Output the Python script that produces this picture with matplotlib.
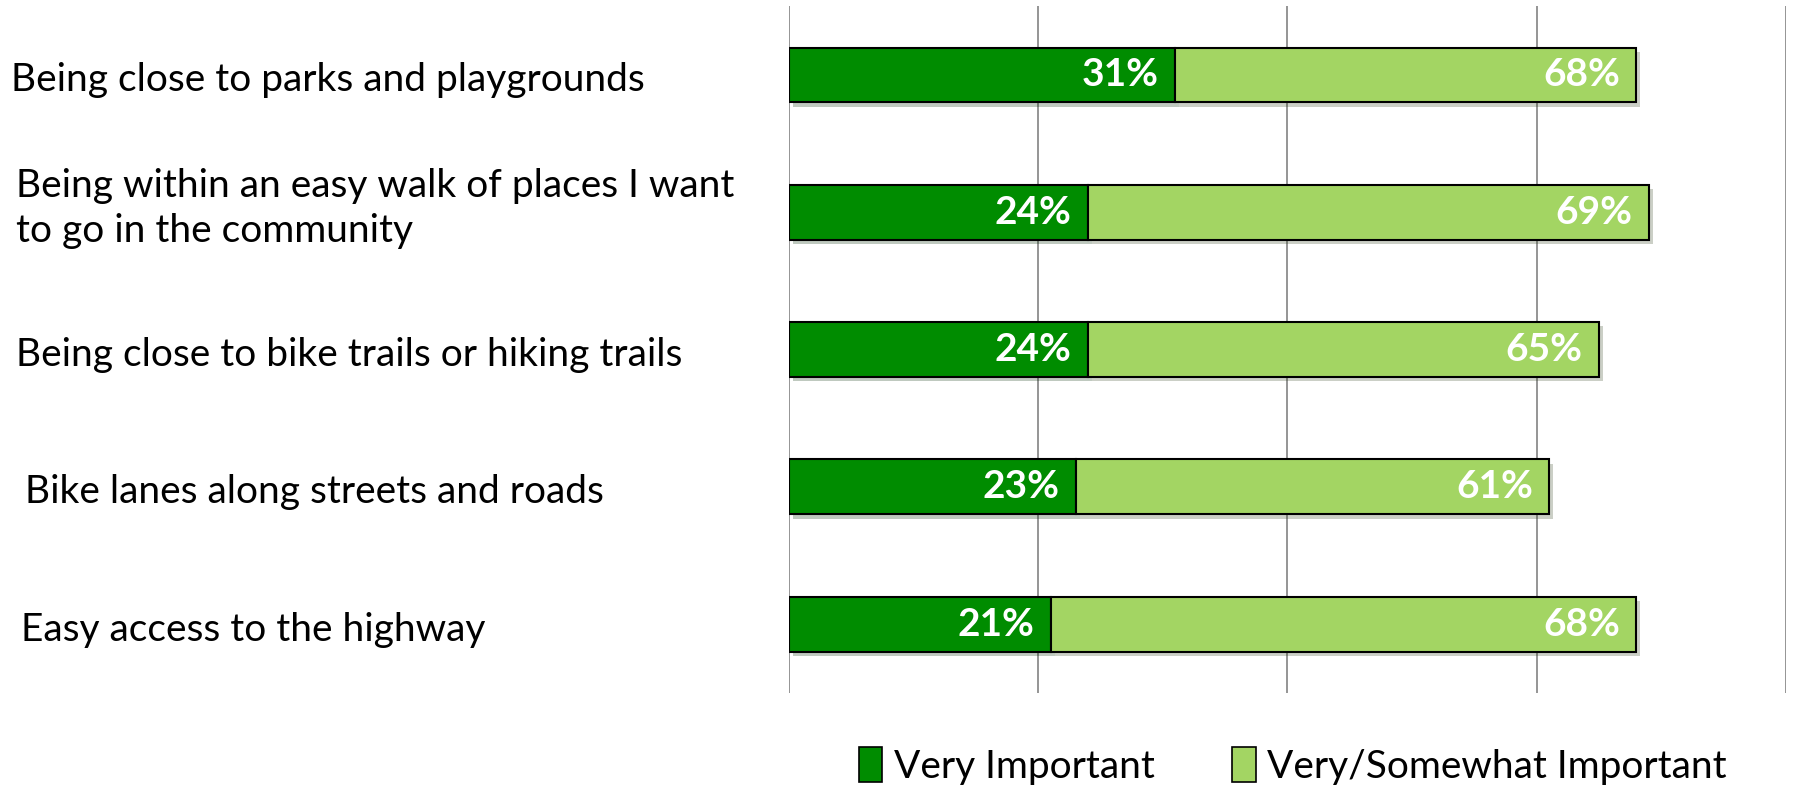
import numpy as np
import matplotlib
matplotlib.use("Agg")
import matplotlib.pyplot as plt
import matplotlib.patheffects as pe
import matplotlib.transforms as mtransforms
from matplotlib.patches import Patch

plt.rcParams['font.family'] = ['Lato', 'DejaVu Sans']

categories = [
    "Being close to parks and playgrounds",
    "Being within an easy walk of places I want\nto go in the community",
    "Being close to bike trails or hiking trails",
    "Bike lanes along streets and roads",
    "Easy access to the highway",
]
label_x = [11, 16, 16, 25, 21]   # left offsets of the category text (px)
label_dy = [0.04, -0.03, 0.04, 0.04, 0.04]
very = [31, 24, 24, 23, 21]
very_somewhat = [68, 69, 65, 61, 68]

dark = '#008C00'
light = '#A3D563'

fig = plt.figure(figsize=(17.93, 7.9), dpi=100)
ax = fig.add_axes([0.440, 0.123, 0.556, 0.869])

y = np.arange(len(categories))
rest = [t - v for t, v in zip(very_somewhat, very)]
shadow = [pe.SimplePatchShadow(offset=(3, -3), alpha=0.25), pe.Normal()]

ax.barh(y, very, height=0.4, color=dark, edgecolor='black', linewidth=1.5,
        zorder=3, path_effects=shadow)
ax.barh(y, rest, left=very, height=0.4, color=light, edgecolor='black',
        linewidth=1.5, zorder=3, path_effects=shadow)

lab_tr = mtransforms.blended_transform_factory(fig.transFigure, ax.transData)
for i in range(len(categories)):
    ax.text(very[i] - 1.3, y[i], f"{very[i]}%", ha='right', va='center',
            color='white', fontsize=28, fontweight='bold', zorder=4)
    ax.text(very_somewhat[i] - 1.3, y[i], f"{very_somewhat[i]}%", ha='right',
            va='center', color='white', fontsize=28, fontweight='bold', zorder=4)
    ax.text(label_x[i] / 1793, y[i] + label_dy[i], categories[i], transform=lab_tr,
            ha='left', va='center', fontsize=28, linespacing=1.3)

ax.set_xlim(0, 80)
ax.set_ylim(4.5, -0.5)
ax.set_xticks([0, 20, 40, 60, 80])
ax.xaxis.grid(True, color='#8c8c8c', linewidth=1.3)
ax.set_axisbelow(True)
ax.tick_params(left=False, bottom=False, labelleft=False, labelbottom=False)
for s in ax.spines.values():
    s.set_visible(False)

handles = [Patch(facecolor=dark, edgecolor='black', linewidth=1.2),
           Patch(facecolor=light, edgecolor='black', linewidth=1.2)]
fig.legend(handles, ["Very Important", "Very/Somewhat Important"], loc='center',
           bbox_to_anchor=(0.721, 0.03), ncol=2, frameon=False, fontsize=28,
           handlelength=0.6, handleheight=1.0, handletextpad=0.3, columnspacing=2.0)

fig.savefig("out.png", dpi=100)
